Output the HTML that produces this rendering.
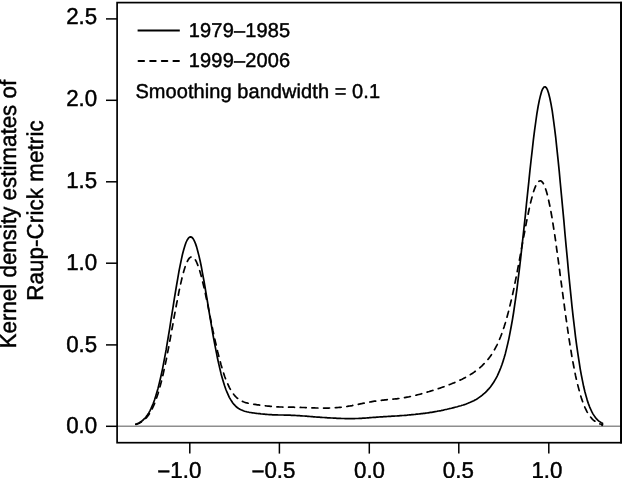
<!DOCTYPE html>
<html>
<head>
<meta charset="utf-8">
<title>Kernel density estimates of Raup-Crick metric</title>
<style>
html,body{margin:0;padding:0;background:#fff;}
body{width:622px;height:478px;overflow:hidden;}
svg{display:block;}
text{text-rendering:geometricPrecision;font-family:"Liberation Sans",Arial,Helvetica,sans-serif;fill:#000;stroke:#000;stroke-width:0.45px;stroke-linejoin:round;}
.ax{font-size:22.3px;}
.lg{font-size:20px;}
</style>
</head>
<body>
<svg width="622" height="478" viewBox="0 0 622 478">
<rect x="0" y="0" width="622" height="478" fill="#ffffff"/>
<!-- zero baseline -->
<line x1="117.1" y1="426.2" x2="621" y2="426.2" stroke="#8e8e8e" stroke-width="1.4"/>
<!-- curves -->
<path d="M135.8,424.2 L136.9,423.8 L138.1,423.3 L139.3,422.7 L140.4,422.0 L141.6,421.2 L142.8,420.3 L143.9,419.2 L145.1,418.0 L146.3,416.6 L147.4,415.0 L148.6,413.1 L149.8,411.1 L151.0,408.7 L152.1,406.1 L153.3,403.2 L154.5,400.0 L155.6,396.5 L156.8,392.6 L158.0,388.4 L159.1,383.9 L160.3,379.0 L161.5,373.7 L162.7,368.1 L163.8,362.1 L165.0,355.9 L166.2,349.4 L167.3,342.6 L168.5,335.5 L169.7,328.4 L170.8,321.0 L172.0,313.6 L173.2,306.2 L174.3,298.9 L175.5,291.6 L176.7,284.5 L177.9,277.7 L179.0,271.2 L180.2,265.1 L181.4,259.4 L182.5,254.3 L183.7,249.7 L184.9,245.8 L186.0,242.5 L187.2,240.0 L188.4,238.2 L189.6,237.1 L190.7,236.9 L191.9,237.4 L193.1,238.7 L194.2,240.7 L195.4,243.4 L196.6,246.9 L197.7,251.0 L198.9,255.6 L200.1,260.8 L201.3,266.5 L202.4,272.6 L203.6,279.0 L204.8,285.7 L205.9,292.5 L207.1,299.5 L208.3,306.6 L209.4,313.7 L210.6,320.7 L211.8,327.6 L212.9,334.3 L214.1,340.8 L215.3,347.1 L216.5,353.1 L217.6,358.8 L218.8,364.1 L220.0,369.2 L221.1,373.9 L222.3,378.2 L223.5,382.2 L224.6,385.8 L225.8,389.2 L227.0,392.2 L228.2,394.9 L229.3,397.3 L230.5,399.4 L231.7,401.3 L232.8,403.0 L234.0,404.4 L235.2,405.7 L236.3,406.8 L237.5,407.7 L238.7,408.5 L239.9,409.2 L241.0,409.8 L242.2,410.3 L243.4,410.8 L244.5,411.2 L245.7,411.5 L246.9,411.8 L248.0,412.0 L249.2,412.3 L250.4,412.5 L251.5,412.7 L252.7,412.8 L253.9,413.0 L255.1,413.2 L256.2,413.3 L257.4,413.5 L258.6,413.6 L259.7,413.7 L260.9,413.9 L262.1,414.0 L263.2,414.1 L264.4,414.2 L265.6,414.3 L266.8,414.4 L267.9,414.5 L269.1,414.6 L270.3,414.6 L271.4,414.7 L272.6,414.8 L273.8,414.8 L274.9,414.9 L276.1,414.9 L277.3,414.9 L278.5,415.0 L279.6,415.0 L280.8,415.0 L282.0,415.0 L283.1,415.0 L284.3,415.1 L285.5,415.1 L286.6,415.1 L287.8,415.2 L289.0,415.2 L290.1,415.2 L291.3,415.3 L292.5,415.3 L293.7,415.4 L294.8,415.4 L296.0,415.5 L297.2,415.6 L298.3,415.6 L299.5,415.7 L300.7,415.8 L301.8,415.9 L303.0,416.0 L304.2,416.0 L305.4,416.1 L306.5,416.2 L307.7,416.3 L308.9,416.4 L310.0,416.5 L311.2,416.6 L312.4,416.7 L313.5,416.8 L314.7,416.9 L315.9,417.0 L317.0,417.1 L318.2,417.2 L319.4,417.2 L320.6,417.3 L321.7,417.4 L322.9,417.5 L324.1,417.5 L325.2,417.6 L326.4,417.7 L327.6,417.8 L328.7,417.8 L329.9,417.9 L331.1,418.0 L332.3,418.0 L333.4,418.1 L334.6,418.1 L335.8,418.2 L336.9,418.3 L338.1,418.3 L339.3,418.4 L340.4,418.4 L341.6,418.5 L342.8,418.5 L344.0,418.5 L345.1,418.6 L346.3,418.6 L347.5,418.6 L348.6,418.6 L349.8,418.6 L351.0,418.6 L352.1,418.6 L353.3,418.6 L354.5,418.6 L355.6,418.5 L356.8,418.5 L358.0,418.5 L359.2,418.4 L360.3,418.4 L361.5,418.3 L362.7,418.2 L363.8,418.1 L365.0,418.1 L366.2,418.0 L367.3,417.9 L368.5,417.8 L369.7,417.7 L370.9,417.6 L372.0,417.5 L373.2,417.4 L374.4,417.4 L375.5,417.3 L376.7,417.2 L377.9,417.1 L379.0,417.0 L380.2,416.9 L381.4,416.9 L382.6,416.8 L383.7,416.7 L384.9,416.6 L386.1,416.6 L387.2,416.5 L388.4,416.4 L389.6,416.4 L390.7,416.3 L391.9,416.2 L393.1,416.2 L394.2,416.1 L395.4,416.0 L396.6,416.0 L397.8,415.9 L398.9,415.8 L400.1,415.7 L401.3,415.6 L402.4,415.5 L403.6,415.5 L404.8,415.4 L405.9,415.3 L407.1,415.2 L408.3,415.0 L409.5,414.9 L410.6,414.8 L411.8,414.7 L413.0,414.6 L414.1,414.5 L415.3,414.4 L416.5,414.2 L417.6,414.1 L418.8,414.0 L420.0,413.8 L421.2,413.7 L422.3,413.6 L423.5,413.4 L424.7,413.3 L425.8,413.1 L427.0,413.0 L428.2,412.8 L429.3,412.6 L430.5,412.4 L431.7,412.3 L432.8,412.1 L434.0,411.9 L435.2,411.7 L436.4,411.5 L437.5,411.2 L438.7,411.0 L439.9,410.8 L441.0,410.6 L442.2,410.3 L443.4,410.1 L444.5,409.8 L445.7,409.5 L446.9,409.3 L448.1,409.0 L449.2,408.7 L450.4,408.5 L451.6,408.2 L452.7,407.9 L453.9,407.6 L455.1,407.3 L456.2,407.0 L457.4,406.7 L458.6,406.3 L459.7,406.0 L460.9,405.7 L462.1,405.3 L463.3,405.0 L464.4,404.6 L465.6,404.2 L466.8,403.7 L467.9,403.3 L469.1,402.8 L470.3,402.3 L471.4,401.8 L472.6,401.2 L473.8,400.7 L475.0,400.0 L476.1,399.4 L477.3,398.7 L478.5,397.9 L479.6,397.1 L480.8,396.3 L482.0,395.4 L483.1,394.4 L484.3,393.4 L485.5,392.3 L486.7,391.1 L487.8,389.9 L489.0,388.6 L490.2,387.2 L491.3,385.7 L492.5,384.0 L493.7,382.3 L494.8,380.4 L496.0,378.3 L497.2,376.1 L498.3,373.6 L499.5,370.9 L500.7,368.0 L501.9,364.8 L503.0,361.4 L504.2,357.6 L505.4,353.4 L506.5,348.9 L507.7,343.9 L508.9,338.6 L510.0,332.8 L511.2,326.5 L512.4,319.8 L513.6,312.5 L514.7,304.8 L515.9,296.6 L517.1,287.9 L518.2,278.7 L519.4,269.1 L520.6,259.0 L521.7,248.6 L522.9,237.9 L524.1,226.9 L525.3,215.8 L526.4,204.5 L527.6,193.2 L528.8,181.9 L529.9,170.9 L531.1,160.0 L532.3,149.6 L533.4,139.6 L534.6,130.2 L535.8,121.5 L536.9,113.6 L538.1,106.5 L539.3,100.4 L540.5,95.4 L541.6,91.4 L542.8,88.7 L544.0,87.1 L545.1,86.8 L546.3,87.7 L547.5,89.9 L548.6,93.3 L549.8,98.0 L551.0,103.8 L552.2,110.7 L553.3,118.7 L554.5,127.6 L555.7,137.3 L556.8,147.9 L558.0,159.1 L559.2,170.8 L560.3,183.0 L561.5,195.6 L562.7,208.3 L563.9,221.2 L565.0,234.0 L566.2,246.8 L567.4,259.4 L568.5,271.7 L569.7,283.7 L570.9,295.3 L572.0,306.4 L573.2,317.1 L574.4,327.1 L575.5,336.7 L576.7,345.6 L577.9,353.9 L579.1,361.6 L580.2,368.8 L581.4,375.3 L582.6,381.3 L583.7,386.8 L584.9,391.7 L586.1,396.1 L587.2,400.1 L588.4,403.6 L589.6,406.8 L590.8,409.5 L591.9,411.9 L593.1,414.1 L594.3,415.9 L595.4,417.5 L596.6,418.9 L597.8,420.1 L598.9,421.1 L600.1,421.9 L601.3,422.7 L602.5,423.3 L602.1,425.3" fill="none" stroke="#000" stroke-width="1.7" stroke-linejoin="round" stroke-linecap="round"/>
<path d="M135.8,424.4 L136.9,424.1 L138.1,423.7 L139.3,423.2 L140.4,422.6 L141.6,421.9 L142.8,421.1 L143.9,420.2 L145.1,419.1 L146.3,417.9 L147.4,416.5 L148.6,414.9 L149.8,413.2 L151.0,411.2 L152.1,408.9 L153.3,406.4 L154.5,403.7 L155.6,400.7 L156.8,397.3 L158.0,393.7 L159.1,389.8 L160.3,385.6 L161.5,381.1 L162.7,376.2 L163.8,371.1 L165.0,365.7 L166.2,360.1 L167.3,354.2 L168.5,348.1 L169.7,341.9 L170.8,335.5 L172.0,329.0 L173.2,322.5 L174.3,316.1 L175.5,309.6 L176.7,303.4 L177.9,297.3 L179.0,291.4 L180.2,285.8 L181.4,280.6 L182.5,275.8 L183.7,271.5 L184.9,267.6 L186.0,264.3 L187.2,261.6 L188.4,259.4 L189.6,257.9 L190.7,257.1 L191.9,256.8 L193.1,257.2 L194.2,258.3 L195.4,259.9 L196.6,262.2 L197.7,264.9 L198.9,268.2 L200.1,272.0 L201.3,276.2 L202.4,280.8 L203.6,285.7 L204.8,290.9 L205.9,296.3 L207.1,301.9 L208.3,307.6 L209.4,313.4 L210.6,319.1 L211.8,324.8 L212.9,330.5 L214.1,336.0 L215.3,341.4 L216.5,346.5 L217.6,351.5 L218.8,356.3 L220.0,360.8 L221.1,365.0 L222.3,369.0 L223.5,372.8 L224.6,376.2 L225.8,379.4 L227.0,382.3 L228.2,384.9 L229.3,387.3 L230.5,389.5 L231.7,391.5 L232.8,393.2 L234.0,394.7 L235.2,396.1 L236.3,397.3 L237.5,398.3 L238.7,399.2 L239.9,400.0 L241.0,400.7 L242.2,401.3 L243.4,401.8 L244.5,402.2 L245.7,402.6 L246.9,402.9 L248.0,403.2 L249.2,403.5 L250.4,403.7 L251.5,403.9 L252.7,404.1 L253.9,404.3 L255.1,404.4 L256.2,404.6 L257.4,404.8 L258.6,404.9 L259.7,405.1 L260.9,405.2 L262.1,405.4 L263.2,405.5 L264.4,405.7 L265.6,405.8 L266.8,406.0 L267.9,406.1 L269.1,406.2 L270.3,406.3 L271.4,406.4 L272.6,406.5 L273.8,406.6 L274.9,406.7 L276.1,406.8 L277.3,406.9 L278.5,406.9 L279.6,407.0 L280.8,407.0 L282.0,407.0 L283.1,407.1 L284.3,407.1 L285.5,407.1 L286.6,407.1 L287.8,407.2 L289.0,407.2 L290.1,407.2 L291.3,407.2 L292.5,407.2 L293.7,407.2 L294.8,407.3 L296.0,407.3 L297.2,407.3 L298.3,407.4 L299.5,407.4 L300.7,407.4 L301.8,407.5 L303.0,407.5 L304.2,407.5 L305.4,407.6 L306.5,407.6 L307.7,407.7 L308.9,407.7 L310.0,407.8 L311.2,407.8 L312.4,407.9 L313.5,407.9 L314.7,407.9 L315.9,408.0 L317.0,408.0 L318.2,408.0 L319.4,408.1 L320.6,408.1 L321.7,408.1 L322.9,408.1 L324.1,408.1 L325.2,408.1 L326.4,408.1 L327.6,408.1 L328.7,408.1 L329.9,408.0 L331.1,408.0 L332.3,407.9 L333.4,407.9 L334.6,407.8 L335.8,407.7 L336.9,407.6 L338.1,407.5 L339.3,407.4 L340.4,407.3 L341.6,407.2 L342.8,407.0 L344.0,406.9 L345.1,406.7 L346.3,406.6 L347.5,406.4 L348.6,406.2 L349.8,406.0 L351.0,405.8 L352.1,405.6 L353.3,405.3 L354.5,405.1 L355.6,404.9 L356.8,404.6 L358.0,404.4 L359.2,404.1 L360.3,403.9 L361.5,403.7 L362.7,403.4 L363.8,403.2 L365.0,402.9 L366.2,402.7 L367.3,402.5 L368.5,402.2 L369.7,402.0 L370.9,401.8 L372.0,401.6 L373.2,401.4 L374.4,401.2 L375.5,401.1 L376.7,400.9 L377.9,400.7 L379.0,400.6 L380.2,400.5 L381.4,400.3 L382.6,400.2 L383.7,400.1 L384.9,399.9 L386.1,399.8 L387.2,399.7 L388.4,399.6 L389.6,399.5 L390.7,399.4 L391.9,399.3 L393.1,399.2 L394.2,399.0 L395.4,398.9 L396.6,398.8 L397.8,398.6 L398.9,398.5 L400.1,398.3 L401.3,398.2 L402.4,398.0 L403.6,397.8 L404.8,397.6 L405.9,397.4 L407.1,397.2 L408.3,397.0 L409.5,396.7 L410.6,396.5 L411.8,396.2 L413.0,396.0 L414.1,395.7 L415.3,395.4 L416.5,395.1 L417.6,394.8 L418.8,394.5 L420.0,394.2 L421.2,393.9 L422.3,393.5 L423.5,393.2 L424.7,392.9 L425.8,392.5 L427.0,392.2 L428.2,391.8 L429.3,391.5 L430.5,391.1 L431.7,390.7 L432.8,390.4 L434.0,390.0 L435.2,389.6 L436.4,389.2 L437.5,388.9 L438.7,388.5 L439.9,388.1 L441.0,387.7 L442.2,387.3 L443.4,386.9 L444.5,386.5 L445.7,386.0 L446.9,385.6 L448.1,385.2 L449.2,384.7 L450.4,384.3 L451.6,383.8 L452.7,383.3 L453.9,382.9 L455.1,382.4 L456.2,381.9 L457.4,381.4 L458.6,380.8 L459.7,380.3 L460.9,379.7 L462.1,379.2 L463.3,378.6 L464.4,378.0 L465.6,377.4 L466.8,376.7 L467.9,376.0 L469.1,375.4 L470.3,374.7 L471.4,373.9 L472.6,373.2 L473.8,372.4 L475.0,371.5 L476.1,370.7 L477.3,369.8 L478.5,368.9 L479.6,367.9 L480.8,366.9 L482.0,365.8 L483.1,364.7 L484.3,363.5 L485.5,362.3 L486.7,361.0 L487.8,359.6 L489.0,358.1 L490.2,356.5 L491.3,354.9 L492.5,353.1 L493.7,351.1 L494.8,349.1 L496.0,346.9 L497.2,344.6 L498.3,342.1 L499.5,339.4 L500.7,336.5 L501.9,333.4 L503.0,330.1 L504.2,326.6 L505.4,322.8 L506.5,318.8 L507.7,314.6 L508.9,310.1 L510.0,305.4 L511.2,300.5 L512.4,295.3 L513.6,289.9 L514.7,284.3 L515.9,278.4 L517.1,272.4 L518.2,266.3 L519.4,260.1 L520.6,253.7 L521.7,247.3 L522.9,241.0 L524.1,234.6 L525.3,228.4 L526.4,222.3 L527.6,216.5 L528.8,210.8 L529.9,205.5 L531.1,200.6 L532.3,196.1 L533.4,192.1 L534.6,188.6 L535.8,185.7 L536.9,183.5 L538.1,181.9 L539.3,181.0 L540.5,180.8 L541.6,181.3 L542.8,182.6 L544.0,184.7 L545.1,187.5 L546.3,191.0 L547.5,195.3 L548.6,200.2 L549.8,205.8 L551.0,212.0 L552.2,218.7 L553.3,225.9 L554.5,233.5 L555.7,241.5 L556.8,249.8 L558.0,258.4 L559.2,267.1 L560.3,275.9 L561.5,284.7 L562.7,293.6 L563.9,302.3 L565.0,310.9 L566.2,319.3 L567.4,327.5 L568.5,335.4 L569.7,342.9 L570.9,350.2 L572.0,357.1 L573.2,363.5 L574.4,369.7 L575.5,375.4 L576.7,380.7 L577.9,385.6 L579.1,390.1 L580.2,394.3 L581.4,398.1 L582.6,401.5 L583.7,404.6 L584.9,407.4 L586.1,409.9 L587.2,412.1 L588.4,414.0 L589.6,415.8 L590.8,417.3 L591.9,418.6 L593.1,419.8 L594.3,420.8 L595.4,421.6 L596.6,422.3 L597.8,423.0 L598.9,423.5 L600.1,424.0 L601.3,424.3 L602.5,424.7" fill="none" stroke="#000" stroke-width="1.7" stroke-linejoin="round" stroke-linecap="round" stroke-dasharray="6 5.68"/>
<!-- frame -->
<rect x="117.1" y="2.6" width="503.9" height="440.1" fill="none" stroke="#000" stroke-width="1.7"/>
<line x1="621.1" y1="1.8" x2="621.1" y2="443.5" stroke="#000" stroke-width="1.9"/>
<!-- y ticks -->
<g stroke="#000" stroke-width="1.5">
<line x1="106" y1="18.9" x2="117.1" y2="18.9"/>
<line x1="106" y1="100.3" x2="117.1" y2="100.3"/>
<line x1="106" y1="181.8" x2="117.1" y2="181.8"/>
<line x1="106" y1="263.2" x2="117.1" y2="263.2"/>
<line x1="106" y1="344.9" x2="117.1" y2="344.9"/>
<line x1="106" y1="426.3" x2="117.1" y2="426.3"/>
<line x1="189.8" y1="442.7" x2="189.8" y2="453.6"/>
<line x1="279.4" y1="442.7" x2="279.4" y2="453.6"/>
<line x1="369.3" y1="442.7" x2="369.3" y2="453.6"/>
<line x1="458.8" y1="442.7" x2="458.8" y2="453.6"/>
<line x1="548.8" y1="442.7" x2="548.8" y2="453.6"/>
</g>
<!-- y tick labels -->
<g class="ax" text-anchor="end">
<text transform="translate(97.2 24.2) scale(1 1.03)">2.5</text>
<text transform="translate(97.2 106.0) scale(1 1.03)">2.0</text>
<text transform="translate(97.2 188.2) scale(1 1.03)">1.5</text>
<text transform="translate(97.2 269.6) scale(1 1.03)">1.0</text>
<text transform="translate(97.2 351.8) scale(1 1.03)">0.5</text>
<text transform="translate(97.2 433.4) scale(1 1.03)">0.0</text>
</g>
<!-- x tick labels -->
<g class="ax">
<text transform="translate(157.3 477.7) scale(1 1.03)"><tspan dy="1.4">−</tspan><tspan dy="-1.4">1.0</tspan></text>
<text transform="translate(251.4 477.7) scale(1 1.03)"><tspan dy="1.4">−</tspan><tspan dy="-1.4">0.5</tspan></text>
<text transform="translate(354 477.7) scale(1 1.03)">0.0</text>
<text transform="translate(442.8 477.7) scale(1 1.03)">0.5</text>
<text transform="translate(531.4 477.7) scale(1 1.03)">1.0</text>
</g>
<!-- y axis title -->
<g class="ax" text-anchor="middle">
<text transform="translate(16.2,214.1) rotate(-90) scale(1 1.03)" letter-spacing="0.03">Kernel density estimates of</text>
<text transform="translate(43.3,210.5) rotate(-90) scale(1 1.03)" letter-spacing="0.12">Raup-Crick metric</text>
</g>
<!-- legend -->
<line x1="137.6" y1="30.5" x2="179.8" y2="30.5" stroke="#000" stroke-width="1.9"/>
<line x1="138.5" y1="61" x2="179.8" y2="61" stroke="#000" stroke-width="1.9" stroke-linecap="round" stroke-dasharray="5.6 6.03"/>
<g class="lg">
<text transform="translate(188.8 36.8)" letter-spacing="0.16">1979–1985</text>
<text transform="translate(188.8 67.3)" letter-spacing="0.16">1999–2006</text>
<text transform="translate(135.4 97.7)" letter-spacing="0.07">Smoothing bandwidth = 0.1</text>
</g>
</svg>
</body>
</html>
